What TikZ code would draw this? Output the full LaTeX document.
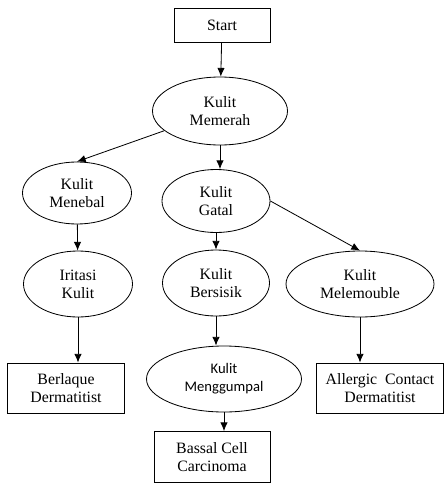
\documentclass[tikz,border=0pt]{standalone}
\usepackage{fontspec}
\setmainfont{Liberation Serif}
\newfontfamily\calibri{Carlito}
\usepackage{tikz}
\usetikzlibrary{arrows.meta, shapes.geometric}
\tikzstyle{kotak} = [rectangle, draw=black, align=center, inner sep=2pt, font=\fontsize{13.5}{15.5}\selectfont]
\tikzstyle{bulat} = [ellipse, draw=black, align=center, inner sep=0pt, font=\fontsize{13.5}{15.5}\selectfont]

\begin{document}
\begin{tikzpicture}[>={Latex[length=2.6mm,width=2.2mm]}, line width=0.7pt]

        \useasboundingbox (0,0) rectangle (13.35,-14.52);

        \node (start) [kotak, minimum width=2.88cm, minimum height=1.02cm] at (6.66,-0.75) {Start};

        \node (memerah) [bulat, minimum width=4.05cm, minimum height=2.04cm] at (6.6,-3.33) {Kulit\\Memerah};

        \node (menebal) [bulat, minimum width=3.27cm, minimum height=1.86cm] at (2.31,-5.79) {Kulit\\Menebal};
        \node (gatal) [bulat, minimum width=3.24cm, minimum height=1.89cm] at (6.48,-6.03) {Kulit\\Gatal};

        \node (iritasi) [bulat, minimum width=3.27cm, minimum height=1.98cm] at (2.34,-8.52) {Iritasi\\Kulit};
        \node (bersisik) [bulat, minimum width=3.21cm, minimum height=1.98cm] at (6.48,-8.49) {Kulit\\Bersisik};
        \node (melemouble) [bulat, minimum width=4.44cm, minimum height=1.98cm] at (10.8,-8.52) {Kulit\\Melemouble};

        \node (berlaque) [kotak, minimum width=3.51cm, minimum height=1.5cm] at (1.98,-11.64) {Berlaque\\Dermatitist};
        \node (menggumpal) [bulat, minimum width=4.65cm, minimum height=1.98cm, font=\calibri\fontsize{12.5}{15.5}\selectfont] at (6.72,-11.37) {Kulit\\Menggumpal};
        \node (allergic) [kotak, minimum width=3.81cm, minimum height=1.5cm] at (11.4,-11.64) {Allergic~~Contact\\Dermatitist};

        \node (bassal) [kotak, minimum width=3.48cm, minimum height=1.53cm] at (6.36,-13.71) {Bassal Cell\\Carcinoma};

        \draw[->] (start) -- (memerah);

        \draw[->] (memerah) -- (menebal.north);
        \draw[->] (memerah) -- (memerah |- gatal.north);

        \draw[->] (menebal) -- (iritasi);
        \draw[->] (gatal) -- (bersisik);
        \draw[->] (gatal.east) -- (melemouble.north);

        \draw[->] (iritasi) -- (iritasi |- berlaque.north);
        \draw[->] (bersisik) -- (bersisik |- menggumpal.north);
        \draw[->] (melemouble) -- (melemouble |- allergic.north);

        \draw[->] (menggumpal.south) -- (menggumpal.south |- bassal.north);

    \end{tikzpicture}
\end{document}
